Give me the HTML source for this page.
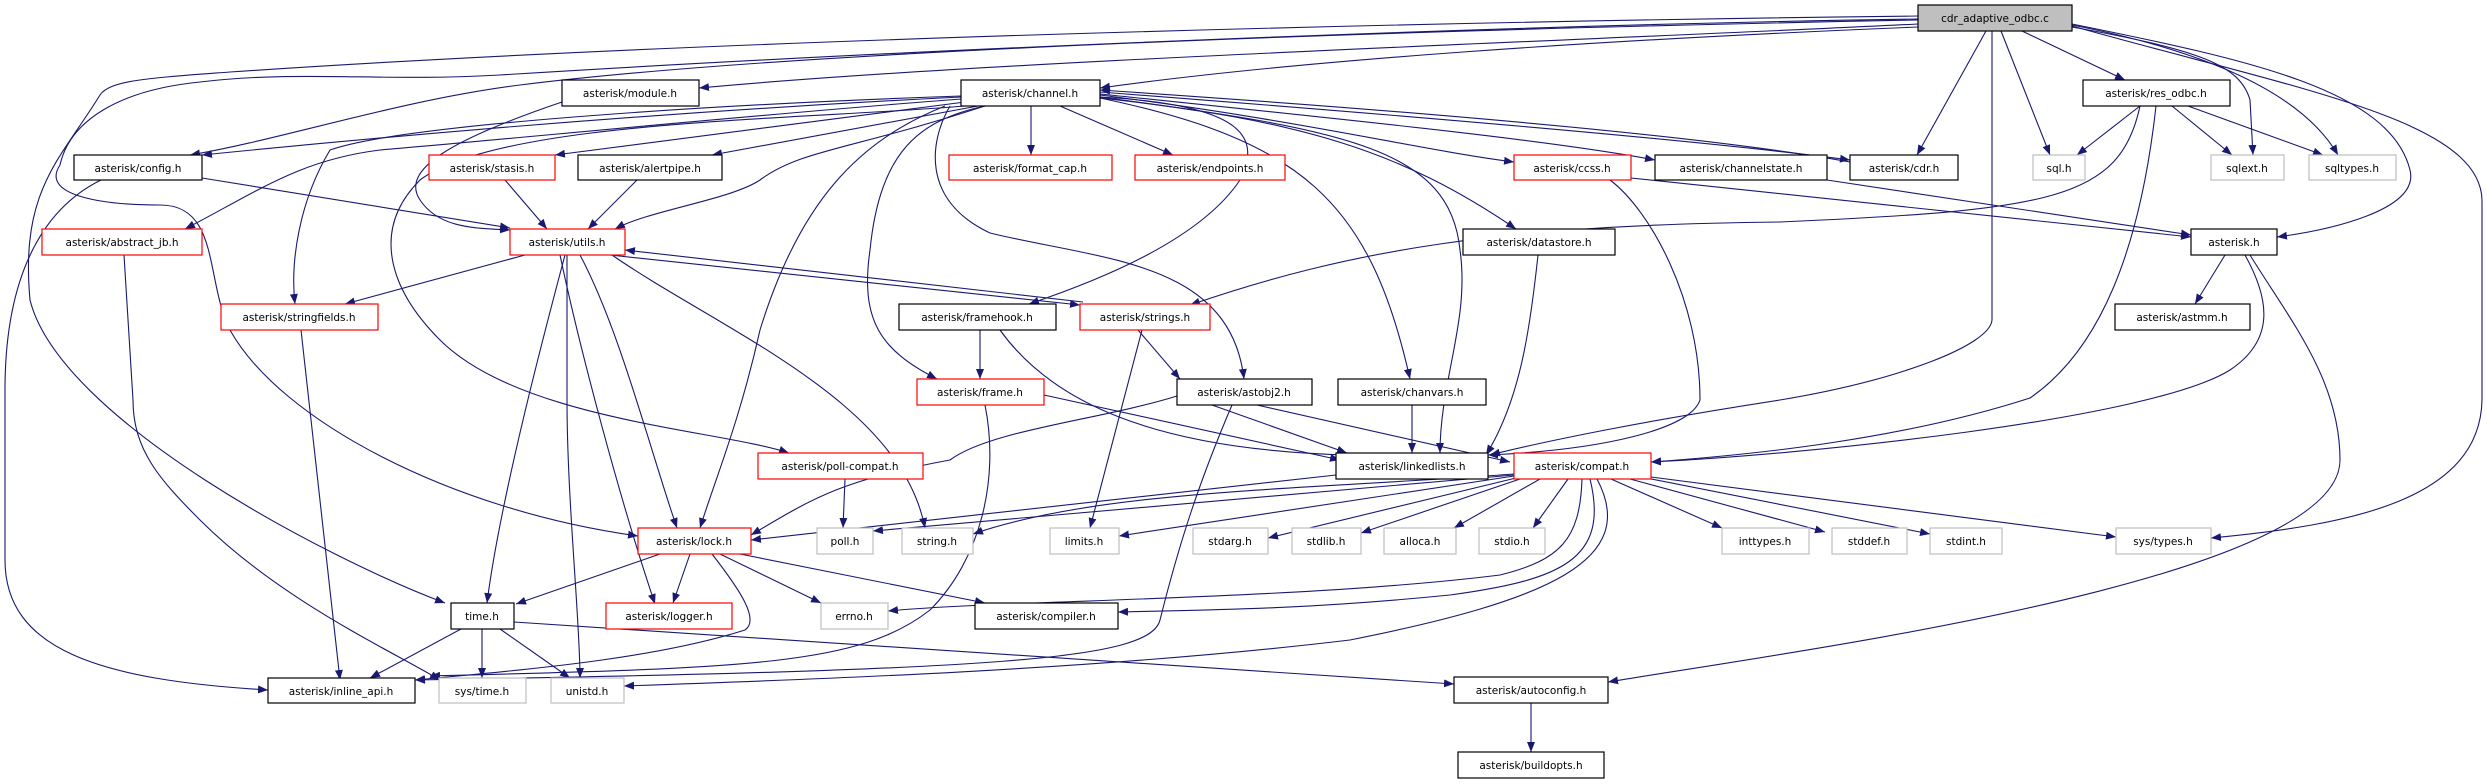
<!DOCTYPE html>
<html><head><meta charset="utf-8"><style>
html,body{margin:0;padding:0;background:#fff;}
svg{display:block;}
text{font-family:"DejaVu Sans","Liberation Sans",sans-serif;font-size:10.5px;fill:#000;text-anchor:middle;}
.e{fill:none;stroke:#191970;stroke-width:1.1;marker-end:url(#a);}
.b{fill:#fff;stroke:#000;stroke-width:1.2;}
.r{fill:#fff;stroke:#ff0000;stroke-width:1.2;}
.g{fill:#fff;stroke:#bfbfbf;stroke-width:1.2;}
</style></head><body>
<svg width="2487" height="784" viewBox="0 0 2487 784" xmlns="http://www.w3.org/2000/svg">
<defs><marker id="a" viewBox="0 0 10 8" refX="10" refY="4" markerWidth="10" markerHeight="8" markerUnits="userSpaceOnUse" orient="auto"><path d="M0,0L10,4L0,8z" fill="#191970"/></marker></defs>

<!-- edges from cdr -->
<path class="e" d="M1918,16 C1400,22 700,40 230,72 C150,78 110,80 100,95 C60,160 20,190 30,300 C60,420 330,560 445,603"/>
<path class="e" d="M1918,19 C1500,25 900,50 500,75 C380,82 300,70 200,82 C120,90 70,120 60,165 C40,195 100,205 160,205 C220,205 205,280 230,330 C280,420 450,510 638,536"/>
<path class="e" d="M1918,20 C1400,30 800,50 520,85 C400,100 280,140 190,155"/>
<path class="e" d="M1918,24 C1600,40 1000,60 699,88"/>
<path class="e" d="M1918,27 C1600,40 1300,60 1100,88"/>
<path class="e" d="M1992,31 L1992,320 C1990,345 1900,380 1780,400 C1650,420 1550,440 1490,455"/>
<path class="e" d="M1986,31 L1917,155"/>
<path class="e" d="M2001,31 L2050,155"/>
<path class="e" d="M2022,31 L2125,80"/>
<path class="e" d="M2072,27 C2200,50 2240,65 2250,100 L2253,155"/>
<path class="e" d="M2072,25 C2200,50 2300,90 2338,155"/>
<path class="e" d="M2072,24 C2250,60 2390,90 2410,170 C2420,210 2330,230 2277,237"/>
<path class="e" d="M2072,26 C2300,90 2480,120 2482,200 L2482,400 C2480,500 2350,525 2211,538"/>

<!-- channel.h edges -->
<path class="e" d="M961,97 C700,110 450,130 202,155"/>
<path class="e" d="M961,99 C750,115 500,140 380,150 C300,160 260,190 185,229"/>
<path class="e" d="M961,96 C700,105 400,125 330,150 C300,200 290,260 295,304"/>
<path class="e" d="M965,102 L555,155"/>
<path class="e" d="M978,106 L712,155"/>
<path class="e" d="M985,106 C850,150 800,150 760,180 C730,200 650,210 615,229"/>
<path class="e" d="M965,106 C800,120 500,120 420,180 C370,230 390,290 440,340 C520,420 720,430 789,453"/>
<path class="e" d="M945,106 C860,140 800,200 760,330 C740,420 715,480 700,528"/>
<path class="e" d="M985,106 C920,120 880,150 870,250 C860,320 880,350 937,379"/>
<path class="e" d="M1031,106 L1031,155"/>
<path class="e" d="M1060,106 L1173,155"/>
<path class="e" d="M950,106 C930,140 920,200 990,233 C1100,260 1230,260 1244,379"/>
<path class="e" d="M1100,97 C1250,105 1260,140 1240,180 C1200,240 1100,280 1029,304"/>
<path class="e" d="M1100,98 C1300,140 1370,200 1410,379"/>
<path class="e" d="M1100,98 C1300,120 1400,150 1516,229"/>
<path class="e" d="M1100,97 C1350,130 1450,150 1460,250 C1470,320 1440,380 1440,453"/>
<path class="e" d="M1100,95 C1300,120 1420,150 1514,162"/>
<path class="e" d="M1100,94 C1350,120 1550,140 1655,160"/>
<path class="e" d="M1100,92 C1400,115 1700,140 1850,160"/>
<path class="e" d="M1850,162 C1700,135 1400,110 1100,90"/>

<!-- others -->
<path class="e" d="M562,102 C450,140 400,170 420,200 C440,230 480,228 510,230"/>
<path class="e" d="M202,178 L510,228"/>
<path class="e" d="M505,180 L547,229"/>
<path class="e" d="M637,180 L588,229"/>
<path class="e" d="M101,180 C40,210 5,280 5,390 L5,560 C5,650 100,680 268,690"/>
<path class="e" d="M124,255 L133,400 C133,450 160,480 200,520 C280,600 390,650 440,680"/>
<path class="e" d="M525,255 L345,304"/>
<path class="e" d="M610,255 L1080,305"/>
<path class="e" d="M1083,302 L625,250"/>
<path class="e" d="M565,255 C545,330 500,500 487,603"/>
<path class="e" d="M560,255 C580,350 620,500 655,604"/>
<path class="e" d="M580,255 C620,330 650,450 677,528"/>
<path class="e" d="M567,255 L567,400 C567,500 580,620 580,678"/>
<path class="e" d="M612,255 C720,330 900,400 925,528"/>
<path class="e" d="M301,330 L340,680"/>
<path class="e" d="M1138,330 L1180,379"/>
<path class="e" d="M1142,330 L1090,528"/>
<path class="e" d="M980,330 L980,379"/>
<path class="e" d="M1000,330 C1050,400 1150,450 1350,455"/>
<path class="e" d="M2140,106 C2120,200 2050,210 1780,222 C1500,225 1350,250 1190,305"/>
<path class="e" d="M2156,106 C2140,250 2100,350 2030,398 C1900,440 1750,455 1651,462"/>
<path class="e" d="M2140,106 L2077,155"/>
<path class="e" d="M2172,106 L2232,155"/>
<path class="e" d="M2188,106 L2323,155"/>
<path class="e" d="M1610,180 C1650,210 1700,300 1700,400 C1690,430 1600,450 1488,455"/>
<path class="e" d="M1631,178 L2191,237"/>
<path class="e" d="M1827,180 L2191,235"/>
<path class="e" d="M1538,255 C1530,330 1520,400 1486,455"/>
<path class="e" d="M2225,255 L2195,304"/>
<path class="e" d="M2245,255 C2270,300 2275,340 2230,370 C2150,420 1800,455 1651,462"/>
<path class="e" d="M2250,255 C2290,320 2340,380 2340,460 C2340,580 1800,650 1608,682"/>
<path class="e" d="M1044,395 L1340,460"/>
<path class="e" d="M985,405 C1000,480 980,560 930,610 C860,665 750,668 430,676"/>
<path class="e" d="M1177,396 C1100,420 990,430 950,460 C840,480 810,500 751,535"/>
<path class="e" d="M1212,405 L1347,453"/>
<path class="e" d="M1257,405 L1510,462"/>
<path class="e" d="M1232,405 C1200,480 1180,540 1160,620 C1150,660 1000,670 415,680"/>
<path class="e" d="M1412,405 L1412,453"/>
<path class="e" d="M1336,475 L751,540"/>
<path class="e" d="M845,479 L843,528"/>
<path class="e" d="M1514,475 L873,531"/>
<path class="e" d="M1514,474 C1300,490 1100,490 973,534"/>
<path class="e" d="M1514,476 L1119,536"/>
<path class="e" d="M1516,478 L1268,538"/>
<path class="e" d="M1520,479 L1361,533"/>
<path class="e" d="M1540,479 L1454,528"/>
<path class="e" d="M1568,479 L1533,528"/>
<path class="e" d="M1611,479 L1722,528"/>
<path class="e" d="M1630,479 L1825,532"/>
<path class="e" d="M1636,476 L1930,534"/>
<path class="e" d="M1651,477 L2116,537"/>
<path class="e" d="M1582,479 C1580,540 1560,560 1500,575 C1300,600 1000,600 888,611"/>
<path class="e" d="M1590,479 C1610,560 1560,580 1450,595 C1300,610 1200,610 1118,612"/>
<path class="e" d="M1597,479 C1640,560 1550,600 1350,640 C1100,670 800,680 624,686"/>
<path class="e" d="M660,554 L516,604"/>
<path class="e" d="M690,554 L673,603"/>
<path class="e" d="M720,554 L821,603"/>
<path class="e" d="M740,554 L985,603"/>
<path class="e" d="M712,554 C740,590 760,620 745,630 C650,660 520,670 415,680"/>
<path class="e" d="M461,629 L370,678"/>
<path class="e" d="M482,629 L482,678"/>
<path class="e" d="M500,629 L570,678"/>
<path class="e" d="M514,622 L1454,684"/>
<path class="e" d="M1531,703 L1531,752"/>

<!-- nodes -->
<rect x="1918" y="5" width="154" height="26" fill="#bfbfbf" stroke="#000" stroke-width="1.2"/><text x="1995" y="22">cdr_adaptive_odbc.c</text>
<rect class="b" x="562" y="80" width="137" height="26"/><text x="630" y="97">asterisk/module.h</text>
<rect class="b" x="961" y="80" width="139" height="26"/><text x="1030" y="97">asterisk/channel.h</text>
<rect class="b" x="2083" y="80" width="147" height="26"/><text x="2156" y="97">asterisk/res_odbc.h</text>
<rect class="b" x="74" y="155" width="128" height="25"/><text x="138" y="172">asterisk/config.h</text>
<rect class="r" x="429" y="155" width="126" height="25"/><text x="492" y="172">asterisk/stasis.h</text>
<rect class="b" x="578" y="155" width="144" height="25"/><text x="650" y="172">asterisk/alertpipe.h</text>
<rect class="r" x="949" y="155" width="163" height="25"/><text x="1030" y="172">asterisk/format_cap.h</text>
<rect class="r" x="1135" y="155" width="150" height="25"/><text x="1210" y="172">asterisk/endpoints.h</text>
<rect class="r" x="1514" y="155" width="117" height="25"/><text x="1572" y="172">asterisk/ccss.h</text>
<rect class="b" x="1655" y="155" width="172" height="25"/><text x="1741" y="172">asterisk/channelstate.h</text>
<rect class="b" x="1850" y="155" width="108" height="25"/><text x="1904" y="172">asterisk/cdr.h</text>
<rect class="g" x="2033" y="155" width="52" height="25"/><text x="2059" y="172">sql.h</text>
<rect class="g" x="2211" y="155" width="73" height="25"/><text x="2247" y="172">sqlext.h</text>
<rect class="g" x="2309" y="155" width="87" height="25"/><text x="2352" y="172">sqltypes.h</text>
<rect class="r" x="42" y="229" width="160" height="26"/><text x="122" y="246">asterisk/abstract_jb.h</text>
<rect class="r" x="510" y="229" width="115" height="26"/><text x="567" y="246">asterisk/utils.h</text>
<rect class="b" x="1463" y="229" width="152" height="26"/><text x="1539" y="246">asterisk/datastore.h</text>
<rect class="b" x="2191" y="229" width="86" height="26"/><text x="2234" y="246">asterisk.h</text>
<rect class="r" x="221" y="304" width="157" height="26"/><text x="299" y="321">asterisk/stringfields.h</text>
<rect class="b" x="899" y="304" width="157" height="26"/><text x="977" y="321">asterisk/framehook.h</text>
<rect class="r" x="1080" y="304" width="130" height="26"/><text x="1145" y="321">asterisk/strings.h</text>
<rect class="b" x="2115" y="304" width="135" height="26"/><text x="2182" y="321">asterisk/astmm.h</text>
<rect class="r" x="917" y="379" width="127" height="26"/><text x="980" y="396">asterisk/frame.h</text>
<rect class="b" x="1177" y="379" width="135" height="26"/><text x="1244" y="396">asterisk/astobj2.h</text>
<rect class="b" x="1338" y="379" width="148" height="26"/><text x="1412" y="396">asterisk/chanvars.h</text>
<rect class="r" x="758" y="453" width="165" height="26"/><text x="840" y="470">asterisk/poll-compat.h</text>
<rect class="b" x="1336" y="453" width="152" height="26"/><text x="1412" y="470">asterisk/linkedlists.h</text>
<rect class="r" x="1514" y="453" width="137" height="26"/><text x="1582" y="470">asterisk/compat.h</text>
<rect class="r" x="638" y="528" width="113" height="26"/><text x="694" y="545">asterisk/lock.h</text>
<rect class="g" x="817" y="528" width="56" height="26"/><text x="845" y="545">poll.h</text>
<rect class="g" x="902" y="528" width="71" height="26"/><text x="937" y="545">string.h</text>
<rect class="g" x="1050" y="528" width="69" height="26"/><text x="1084" y="545">limits.h</text>
<rect class="g" x="1193" y="528" width="75" height="26"/><text x="1230" y="545">stdarg.h</text>
<rect class="g" x="1292" y="528" width="69" height="26"/><text x="1326" y="545">stdlib.h</text>
<rect class="g" x="1384" y="528" width="72" height="26"/><text x="1420" y="545">alloca.h</text>
<rect class="g" x="1479" y="528" width="66" height="26"/><text x="1512" y="545">stdio.h</text>
<rect class="g" x="1722" y="528" width="87" height="26"/><text x="1765" y="545">inttypes.h</text>
<rect class="g" x="1832" y="528" width="75" height="26"/><text x="1869" y="545">stddef.h</text>
<rect class="g" x="1930" y="528" width="72" height="26"/><text x="1966" y="545">stdint.h</text>
<rect class="g" x="2116" y="528" width="95" height="26"/><text x="2163" y="545">sys/types.h</text>
<rect class="b" x="451" y="603" width="63" height="26"/><text x="482" y="620">time.h</text>
<rect class="r" x="606" y="603" width="126" height="26"/><text x="669" y="620">asterisk/logger.h</text>
<rect class="g" x="821" y="603" width="67" height="26"/><text x="854" y="620">errno.h</text>
<rect class="b" x="975" y="603" width="143" height="26"/><text x="1046" y="620">asterisk/compiler.h</text>
<rect class="b" x="268" y="678" width="147" height="25"/><text x="341" y="695">asterisk/inline_api.h</text>
<rect class="g" x="439" y="678" width="87" height="25"/><text x="482" y="695">sys/time.h</text>
<rect class="g" x="551" y="678" width="73" height="25"/><text x="587" y="695">unistd.h</text>
<rect class="b" x="1454" y="677" width="154" height="26"/><text x="1531" y="694">asterisk/autoconfig.h</text>
<rect class="b" x="1458" y="752" width="146" height="26"/><text x="1531" y="769">asterisk/buildopts.h</text>
</svg>
</body></html>
